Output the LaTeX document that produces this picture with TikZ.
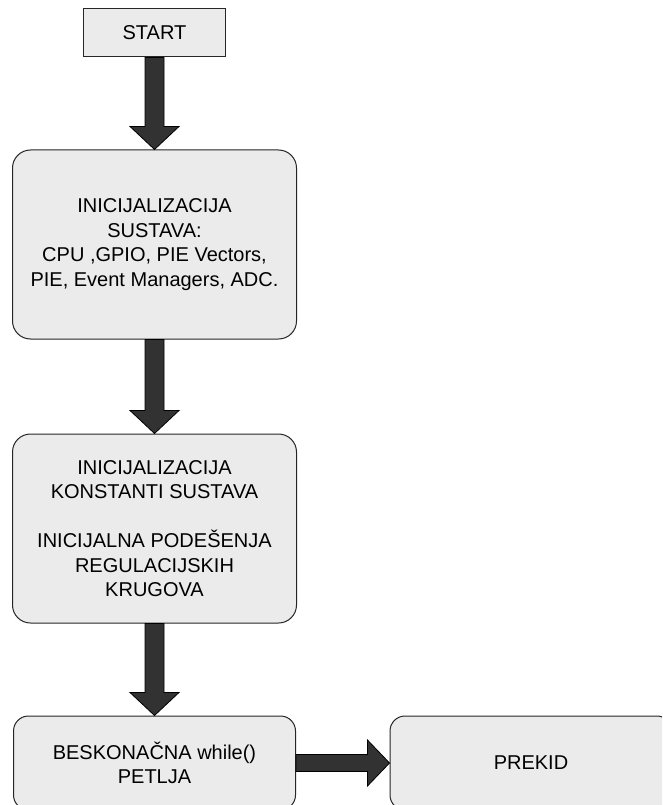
\documentclass[tikz,border=0pt]{standalone}
\usepackage{fontspec}
\setmainfont{Liberation Sans}
\usetikzlibrary{calc}
\definecolor{boxfill}{RGB}{235,235,235}
\definecolor{arrowfill}{RGB}{50,50,50}
% vertical block arrow from the bottom of #1 to the top of #2
\newcommand\vblockarrow[2]{%
  \draw[blockarrow] ($(#1.south)+(-9.5,0)$) -- ($(#2.north)+(-9.5,-23)$)
    -- ($(#2.north)+(-24.5,-23)$) -- (#2.north) -- ($(#2.north)+(24.5,-23)$)
    -- ($(#2.north)+(9.5,-23)$) -- ($(#1.south)+(9.5,0)$) -- cycle;}
% horizontal block arrow from the right side of #1 to the left side of #2
\newcommand\hblockarrow[2]{%
  \draw[blockarrow] ($(#1.east)+(0,-8.5)$) -- ($(#2.west)+(-22,-8.5)$)
    -- ($(#2.west)+(-22,-23)$) -- (#2.west) -- ($(#2.west)+(-22,23)$)
    -- ($(#2.west)+(-22,8.5)$) -- ($(#1.east)+(0,8.5)$) -- cycle;}
\begin{document}
\begin{tikzpicture}[x=1pt,y=-1pt,
  box/.style={draw=black!85, line width=1pt, fill=boxfill, rounded corners=18pt,
    align=center, inner sep=0pt, font=\fontsize{20}{24.5}\selectfont},
  startbox/.style={box, rounded corners=0pt},
  blockarrow/.style={fill=arrowfill, draw=black, line width=0.8pt, line join=miter}]
\useasboundingbox (0,0) rectangle (662,805);
\fill[white] (0,0) rectangle (662,805);
\clip (0,0) rectangle (662,805);

\node[startbox, minimum width=142pt, minimum height=48pt] (start) at (154.5,33) {START};

\node[box, minimum width=284pt, minimum height=189pt] (initsys) at (154.5,244.5)
  {INICIJALIZACIJA\\SUSTAVA:\\CPU ,GPIO, PIE Vectors,\\PIE, Event Managers, ADC.};

\node[box, minimum width=284pt, minimum height=189pt] (initconst) at (154.5,528.5)
  {INICIJALIZACIJA\\KONSTANTI SUSTAVA\\[24.5pt]INICIJALNA PODEŠENJA\\REGULACIJSKIH\\KRUGOVA};

\node[box, rounded corners=15pt, minimum width=282pt, minimum height=94pt] (loop) at (154.5,763)
  {BESKONAČNA while()\\PETLJA};

\node[box, rounded corners=15pt, minimum width=282pt, minimum height=94pt] (isr) at (531,763)
  {PREKID};

\vblockarrow{start}{initsys}
\vblockarrow{initsys}{initconst}
\vblockarrow{initconst}{loop}
\hblockarrow{loop}{isr}
\end{tikzpicture}
\end{document}
